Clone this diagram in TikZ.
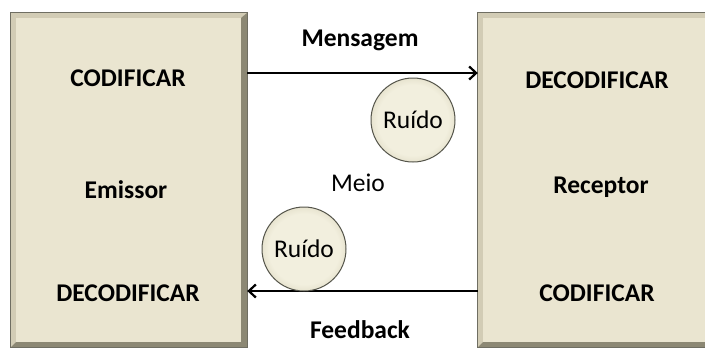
\documentclass[tikz,border=0pt]{standalone}
\usepackage{fontspec}
\setmainfont{Carlito}
\usetikzlibrary{arrows.meta}

\definecolor{boxFill}{HTML}{EAE5D0}
\definecolor{boxLine}{HTML}{6F6E62}
\definecolor{boxDark}{HTML}{8C8874}
\definecolor{boxLight}{HTML}{D2CCB5}
\definecolor{noiseIn}{HTML}{F2EFDE}
\definecolor{noiseMid}{HTML}{DAD5BD}
\definecolor{noiseOut}{HTML}{A39D82}
\definecolor{noiseLine}{HTML}{55554B}
\pgfdeclareradialshading{noiseShade}{\pgfpoint{0bp}{0bp}}{color(0bp)=(noiseIn); color(21bp)=(noiseIn); color(30bp)=(noiseMid); color(35bp)=(noiseOut); color(50bp)=(noiseOut)}

\begin{document}
\begin{tikzpicture}[x=1pt,y=-1pt]
    \useasboundingbox (0,0) rectangle (705,349);
    \tikzset{BoxStyle/.style = {fill=boxFill, inner sep=0pt, minimum height=334pt}}
    \tikzset{TextStyle/.style = {font=\fontsize{25.5}{30}\selectfont\bfseries}}
    \tikzset{NoiseStyle/.style = {circle, draw=noiseLine, line width=1pt, minimum size=84pt,
        shading=noiseShade, font=\fontsize{25.5}{30}\selectfont}}
    \tikzset{EdgeStyle/.style = {line width=2.4pt, -{Straight Barb[length=7pt,width=13pt,line width=2.2pt]}}}

    \node[BoxStyle, minimum width=236pt] (eBox) at (129,180) {};
    \node[BoxStyle, minimum width=240pt] (rBox) at (598,180) {};

    % bevel of the boxes
    \foreach \b in {eBox, rBox}{
        \fill[boxLight] (\b.north west) -- (\b.north east) -- ([xshift=-6pt,yshift=-5pt]\b.north east)
            -- ([xshift=5pt,yshift=-5pt]\b.north west) -- ([xshift=5pt,yshift=5pt]\b.south west)
            -- (\b.south west) -- cycle;
        \fill[boxDark] (\b.north east) -- (\b.south east) -- (\b.south west)
            -- ([xshift=5pt,yshift=5pt]\b.south west) -- ([xshift=-6pt,yshift=5pt]\b.south east)
            -- ([xshift=-6pt,yshift=-5pt]\b.north east) -- cycle;
        \draw[boxLine, line width=1.2pt] (\b.north west) rectangle (\b.south east);
    }

    \node[TextStyle] (eCod) at (128,78) {CODIFICAR};
    \node[TextStyle] (eName) at (126,190) {Emissor};
    \node[TextStyle] (eDec) at (128,293) {DECODIFICAR};

    \node[TextStyle] (rDec) at (597,80) {DECODIFICAR};
    \node[TextStyle] (rName) at (601,187) {Receptor};
    \node[TextStyle] (rCod) at (597,293) {CODIFICAR};

    \node[TextStyle] (msg) at (360,40) {Mensagem};
    \node[TextStyle] (fdb) at (360,330) {Feedback};
    \node[font=\fontsize{25.5}{30}\selectfont] (meio) at (358,183) {Meio};

    \coordinate (mY) at (0,73);
    \coordinate (fY) at (0,291);
    \draw[EdgeStyle] (eBox.east |- mY) -- (rBox.west |- mY);
    \draw[EdgeStyle] (rBox.west |- fY) -- (eBox.east |- fY);

    \node[NoiseStyle] (nA) at (413,120) {Ruído};
    \node[NoiseStyle] (nB) at (304,249) {Ruído};
\end{tikzpicture}
\end{document}
